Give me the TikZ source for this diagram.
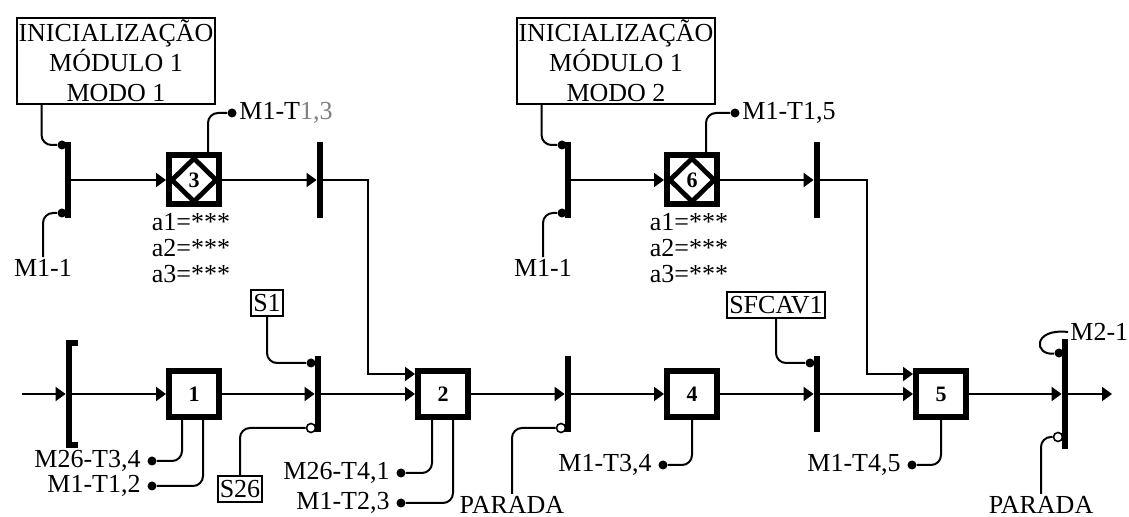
\documentclass[tikz,border=0pt]{standalone}
\usepackage{fontspec}
\setmainfont{Liberation Serif}
\usetikzlibrary{shapes.geometric, arrows.meta, calc}

\begin{document}
\begin{tikzpicture}[
    x=0.5pt, y=-0.5pt,
    stepbox/.style={draw, line width=3pt, minimum width=25pt, minimum height=23pt, inner sep=0pt, font=\fontsize{11}{13}\selectfont\bfseries},
    macrobox/.style={stepbox, minimum height=24.5pt},
    trbar/.style={fill=black, minimum width=3pt, minimum height=38pt, inner sep=0pt},
    initbox/.style={draw, line width=1pt, align=center, inner sep=1pt, font=\fontsize{13}{15}\selectfont},
    tagbox/.style={draw, line width=0.8pt, inner sep=1pt, minimum height=13pt, font=\fontsize{13}{15}\selectfont},
    sig/.style={inner sep=1pt, font=\fontsize{13}{15}\selectfont},
    dot/.style={circle, fill, minimum size=4.5pt, inner sep=0pt},
    odot/.style={circle, draw, fill=white, line width=0.8pt, minimum size=4.5pt, inner sep=0pt},
    flow/.style={-{Triangle[length=5pt, width=7pt]}, line width=1pt},
    wire/.style={line width=1pt, rounded corners=5pt}
]
    \useasboundingbox (0,0) rectangle (1129,517);

    % Mode 1 branch
    \node[initbox] (init1) at (116,61) {INICIALIZAÇÃO\\MÓDULO 1\\MODO 1};
    \node[trbar] (ta) at (68,180) {};
    \node[dot] (ta1) at (62,145) {};
    \node[dot] (ta2) at (62,213) {};
    \node[sig] (m11a) at (43,268) {M1-1};
    \node[macrobox] (s3) at (194,180) {3};
    \node[dot] (t13d) at (232,113) {};
    \node[sig, anchor=west] (t13) at (237,113) {M1-T{\color{gray}1,3}};
    \node[sig, align=left, font=\fontsize{13}{13}\selectfont] (s3p) at (191,248) {a1=***\\a2=***\\a3=***};
    \node[trbar] (tb) at (320,180) {};

    % Mode 2 branch
    \node[initbox] (init2) at (616,61) {INICIALIZAÇÃO\\MÓDULO 1\\MODO 2};
    \node[trbar] (tc) at (568,180) {};
    \node[dot] (tc1) at (562,145) {};
    \node[dot] (tc2) at (562,213) {};
    \node[sig] (m11b) at (543,268) {M1-1};
    \node[macrobox] (s6) at (692,180) {6};
    \node[dot] (t15d) at (735,113) {};
    \node[sig, anchor=west] (t15) at (740,113) {M1-T1,5};
    \node[sig, align=left, font=\fontsize{13}{13}\selectfont] (s6p) at (689,248) {a1=***\\a2=***\\a3=***};
    \node[trbar] (td) at (817,180) {};

    % Main sequence
    \coordinate (start) at (22,394);
    \node[trbar, minimum height=54pt] (t0) at (69,394) {};
    \node[stepbox] (s1) at (194,394) {1};
    \node[trbar] (te) at (318,394) {};
    \node[tagbox] (sa) at (267,303) {S1};
    \node[dot] (te1) at (311,363) {};
    \node[tagbox] (sb) at (240,489) {S26};
    \node[odot] (te2) at (311,428) {};
    \node[stepbox] (s2) at (443,394) {2};
    \node[trbar] (tf) at (568,394) {};
    \node[odot] (tf2) at (561,428) {};
    \node[sig] (par1) at (512,505) {PARADA};
    \node[stepbox] (s4) at (692,394) {4};
    \node[trbar] (tg) at (817,394) {};
    \node[tagbox] (sc) at (776,305) {SFCAV1};
    \node[dot] (tg1) at (810,363) {};
    \node[stepbox] (s5) at (941,394) {5};
    \node[trbar, minimum height=55pt] (th) at (1065,394) {};
    \node[dot] (m21d) at (1059,353) {};
    \node[sig, anchor=west] (m21) at (1068,332) {M2-1};
    \node[odot] (th2) at (1058,437) {};
    \node[sig] (par2) at (1041,505) {PARADA};
    \coordinate (finish) at (1112,394);

    % Step outputs
    \node[dot] (o1a) at (152,461) {};
    \node[sig, anchor=east] (l1a) at (143,461) {M26-T3,4};
    \node[dot] (o1b) at (152,486) {};
    \node[sig, anchor=east] (l1b) at (143,486) {M1-T1,2};
    \node[dot] (o2a) at (401,473) {};
    \node[sig, anchor=east] (l2a) at (392,473) {M26-T4,1};
    \node[dot] (o2b) at (401,503) {};
    \node[sig, anchor=east] (l2b) at (392,503) {M1-T2,3};
    \node[dot] (o4) at (663,465) {};
    \node[sig, anchor=east] (l4) at (654,465) {M1-T3,4};
    \node[dot] (o5) at (912,465) {};
    \node[sig, anchor=east] (l5) at (903,465) {M1-T4,5};

    % Macro step diamonds
    \foreach \m in {s3,s6}
        \draw[line width=2.4pt, line join=miter] ([yshift=-3pt]\m.north) -- ([xshift=-3pt]\m.east) -- ([yshift=3pt]\m.south) -- ([xshift=3pt]\m.west) -- cycle;

    % Bracket ends
    \draw[line width=3pt] ([yshift=-1.5pt]t0.north west) -- ++(12,0);
    \draw[line width=3pt] ([yshift=1.5pt]t0.south west) -- ++(12,0);

    % Arrows
    \draw[flow] (ta) -- (s3);
    \draw[flow] (s3) -- (tb);
    \draw[flow] (tb.east) -- ++(45,0) |- ([yshift=10pt]s2.west);
    \draw[flow] (tc) -- (s6);
    \draw[flow] (s6) -- (td);
    \draw[flow] (td.east) -- ++(47,0) |- ([yshift=10pt]s5.west);
    \draw[flow] (start) -- (t0);
    \draw[flow] (t0) -- (s1);
    \draw[flow] (s1) -- (te);
    \draw[flow] (te) -- (s2);
    \draw[flow] (s2) -- (tf);
    \draw[flow] (tf) -- (s4);
    \draw[flow] (s4) -- (tg);
    \draw[flow] (tg) -- (s5);
    \draw[flow] (s5) -- (th);
    \draw[flow] (th) -- (finish);

    % Conditions
    \draw[wire] ([xshift=13pt]init1.south west) |- (ta1);
    \draw[wire] (m11a) |- (ta2);
    \draw[wire] ([xshift=13pt]init2.south west) |- (tc1);
    \draw[wire] (m11b) |- (tc2);
    \draw[wire] (sa) |- (te1);
    \draw[wire] (sb) |- (te2);
    \draw[wire] (par1.north) |- (tf2);
    \draw[wire] (sc) |- (tg1);
    \draw[wire] (par2.north) |- (th2);
    \draw[line width=1pt] (m21.west) .. controls (1032,328) and (1034,356) .. (m21d);

    % Signals
    \draw[wire] ([xshift=7pt]s3.north) |- (t13d);
    \draw[wire] ([xshift=7pt]s6.north) |- (t15d);
    \draw[wire] ([xshift=-6pt]s1.south) |- (o1a);
    \draw[wire] ([xshift=4.5pt]s1.south) |- (o1b);
    \draw[wire] ([xshift=-5.5pt]s2.south) |- (o2a);
    \draw[wire] ([xshift=5pt]s2.south) |- (o2b);
    \draw[wire] (s4.south) |- (o4);
    \draw[wire] (s5.south) |- (o5);
\end{tikzpicture}
\end{document}
